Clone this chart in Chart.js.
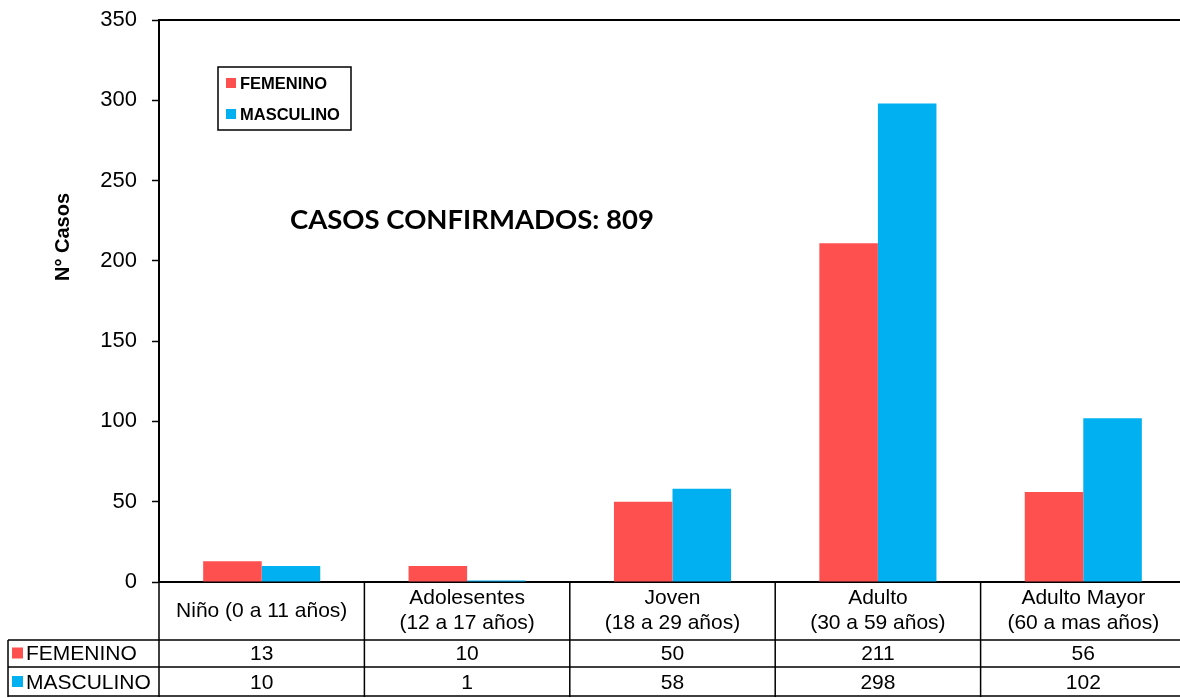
<!DOCTYPE html>
<html>
<head>
<meta charset="utf-8">
<script src="https://cdn.jsdelivr.net/npm/chart.js@4/dist/chart.umd.min.js"></script>
<style>
	html, body { margin: 0; padding: 0; overflow: hidden; background: #fff; }
	#wrap { width: 1188px; height: 698px; }
</style>
</head>
<body>
<div id="wrap"><canvas id="chart1"></canvas></div>
<script>
(() => {
	'use strict'

	// Data
	const categories = ['Niño (0 a 11 años)', 'Adolesentes\n(12 a 17 años)', 'Joven\n(18 a 29 años)', 'Adulto\n(30 a 59 años)', 'Adulto Mayor\n(60 a mas años)'];
	const femenino = [13, 10, 50, 211, 56];
	const masculino = [10, 1, 58, 298, 102];
	const seriesNames = ['FEMENINO', 'MASCULINO'];
	const yTicks = [0, 50, 100, 150, 200, 250, 300, 350];
	const yTitle = 'N° Casos';
	const note = 'CASOS CONFIRMADOS: 809';

	const redColor = '#FF5050';
	const blueColor = '#00B0F0';
	const font = '"Liberation Sans", Arial, sans-serif';

	// Legend box, note, y title and data table under the axis
	const extras = {
		id: 'extras',
		afterDraw(chart) {
			const ctx = chart.ctx;
			const area = chart.chartArea;
			const x = chart.scales.x;
			const sets = chart.data.datasets;
			const colW = x.width / categories.length;
			const headBottom = area.bottom + 58;
			const row1Bottom = headBottom + 27;
			const row2Bottom = row1Bottom + 30;
			const tableLeft = 8;

			ctx.save();
			ctx.strokeStyle = '#000';
			ctx.fillStyle = '#000';

			// top border of plot area
			ctx.lineWidth = 2;
			ctx.beginPath();
			ctx.moveTo(area.left, area.top);
			ctx.lineTo(area.right, area.top);
			ctx.stroke();

			// y axis title
			ctx.save();
			ctx.translate(63, 237);
			ctx.rotate(-Math.PI / 2);
			ctx.font = 'bold 20px ' + font;
			ctx.textAlign = 'center';
			ctx.textBaseline = 'middle';
			ctx.fillText(yTitle, 0, 0);
			ctx.restore();

			// note
			ctx.font = 'bold 27.5px Lato, "Open Sans", sans-serif';
			ctx.textAlign = 'left';
			ctx.textBaseline = 'alphabetic';
			ctx.fillText(note, 290, 229);

			// legend
			ctx.lineWidth = 1.5;
			ctx.strokeRect(218, 67, 133, 63);
			ctx.font = 'bold 16.5px ' + font;
			ctx.textBaseline = 'middle';
			sets.forEach((ds, i) => {
				const cy = 83 + i * 31;
				ctx.fillStyle = ds.backgroundColor;
				ctx.fillRect(226, cy - 5, 10, 10);
				ctx.fillStyle = '#000';
				ctx.fillText(ds.label, 240, cy + 1);
			});

			// table lines
			ctx.lineWidth = 1.5;
			ctx.beginPath();
			for (let i = 0; i <= categories.length; i++) {
				const bx = x.left + colW * i;
				ctx.moveTo(bx, area.bottom);
				ctx.lineTo(bx, row2Bottom);
			}
			ctx.moveTo(tableLeft, headBottom);
			ctx.lineTo(tableLeft, row2Bottom);
			[headBottom, row1Bottom, row2Bottom - 1].forEach((ly) => {
				ctx.moveTo(tableLeft, ly);
				ctx.lineTo(x.right, ly);
			});
			ctx.stroke();

			// category labels
			ctx.font = '21px ' + font;
			ctx.textAlign = 'center';
			ctx.textBaseline = 'middle';
			categories.forEach((c, i) => {
				const cx = x.getPixelForValue(i);
				const lines = c.split('\n');
				const mid = (area.bottom + headBottom) / 2;
				lines.forEach((l, j) => {
					ctx.fillText(l, cx, mid + (j - (lines.length - 1) / 2) * 25);
				});
			});

			// value rows
			const rowMids = [(headBottom + row1Bottom) / 2, (row1Bottom + row2Bottom) / 2];
			sets.forEach((ds, r) => {
				const cy = rowMids[r];
				ctx.fillStyle = ds.backgroundColor;
				ctx.fillRect(12, cy - 6, 11, 11);
				ctx.fillStyle = '#000';
				ctx.textAlign = 'left';
				ctx.fillText(ds.label, 26, cy + 1);
				ctx.textAlign = 'center';
				ds.data.forEach((v, i) => {
					ctx.fillText(String(v), x.getPixelForValue(i), cy + 1);
				});
			});
			ctx.restore();
		}
	};

	const chart1 = document.querySelector('#chart1');
	if (chart1) {
		const dataChart1 = {
			labels: categories,
			datasets: [
				{
					label: seriesNames[0],
					data: femenino,
					backgroundColor: redColor,
					categoryPercentage: 0.57,
					barPercentage: 1.0
				},
				{
					label: seriesNames[1],
					data: masculino,
					backgroundColor: blueColor,
					categoryPercentage: 0.57,
					barPercentage: 1.0
				}
			]
		};

		const configChart1 = {
			type: 'bar',
			data: dataChart1,
			options: {
				responsive: true,
				maintainAspectRatio: false,
				animation: false,
				layout: {
					padding: { top: 20, right: 2, left: 0, bottom: 0 }
				},
				plugins: {
					legend: { display: false },
					title: { display: false },
					tooltip: { enabled: false }
				},
				scales: {
					x: {
						ticks: { display: false },
						grid: { display: false },
						border: { display: true, color: '#000', width: 2 },
						afterFit(s) { s.height = 116; }
					},
					y: {
						min: 0,
						max: 350,
						afterBuildTicks(s) { s.ticks = yTicks.map((v) => ({ value: v })); },
						ticks: {
							color: '#000',
							padding: 15,
							font: { family: font, size: 22 }
						},
						grid: {
							drawOnChartArea: false,
							drawTicks: true,
							tickLength: 7,
							tickColor: '#000',
							tickWidth: 1.5
						},
						border: { display: true, color: '#000', width: 2 },
						afterFit(s) {
							s.width = 159;
							s.paddingTop = 0;
							s.paddingBottom = 0;
						}
					}
				}
			},
			plugins: [extras]
		};

		const myChart1 = new Chart(chart1, configChart1);
	}
})()
</script>
</body>
</html>
